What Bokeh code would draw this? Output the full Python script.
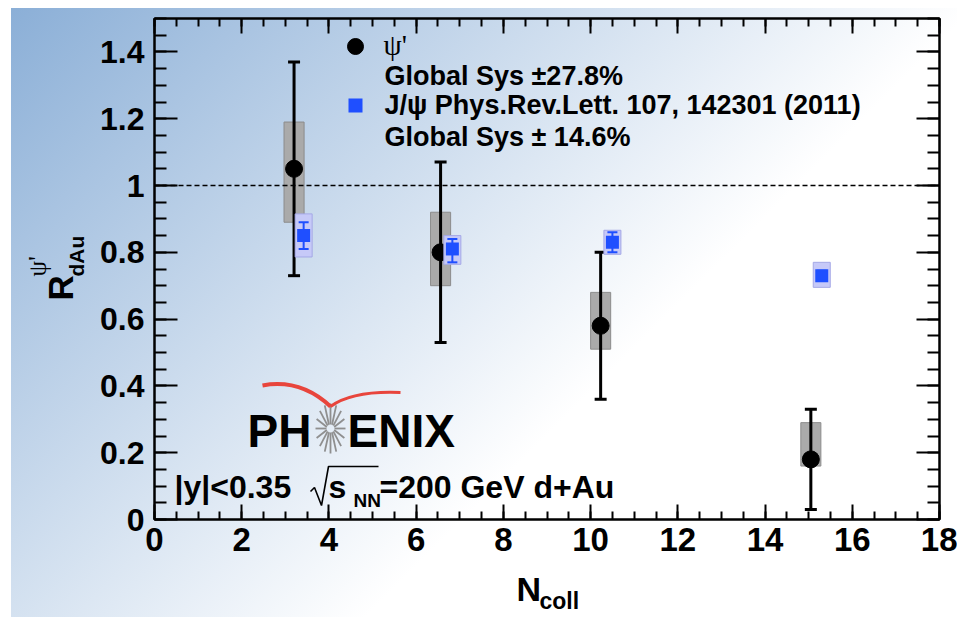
import numpy as np
from bokeh.plotting import figure
from bokeh.models import Range1d, LinearAxis, FixedTicker, Label, Span, ColumnDataSource
from bokeh.core.properties import value
from bokeh.embed import file_html
from bokeh.resources import INLINE

# ---------------- data ----------------
psi2s_ncoll = [3.2, 6.56, 10.23, 15.05]
psi2s_r = [1.05, 0.80, 0.58, 0.18]
psi2s_stat_hi = [1.37, 1.07, 0.80, 0.33]
psi2s_stat_lo = [0.73, 0.53, 0.36, 0.03]
psi2s_sys_hi = [1.19, 0.92, 0.68, 0.29]
psi2s_sys_lo = [0.89, 0.70, 0.51, 0.16]

jpsi_ncoll = [3.42, 6.83, 10.5, 15.3]
jpsi_r = [0.85, 0.81, 0.83, 0.73]
jpsi_stat_hi = [0.89, 0.84, 0.86, 0.745]
jpsi_stat_lo = [0.81, 0.77, 0.80, 0.715]
jpsi_sys_hi = [0.915, 0.85, 0.866, 0.77]
jpsi_sys_lo = [0.786, 0.764, 0.794, 0.695]

y_ticks = [0, 0.2, 0.4, 0.6, 0.8, 1, 1.2, 1.4]
y_tick_labels = ["0", "0.2", "0.4", "0.6", "0.8", "1", "1.2", "1.4"]
x_ticks = [0, 2, 4, 6, 8, 10, 12, 14, 16, 18]
x_tick_labels = ["0", "2", "4", "6", "8", "10", "12", "14", "16", "18"]

legend_psi2s = ["ψ'", "Global Sys ±27.8%"]
legend_jpsi = ["J/ψ Phys.Rev.Lett. 107, 142301 (2011)", "Global Sys ± 14.6%"]
kin_text = ["|y|<0.35", "s", "NN", "=200 GeV d+Au"]
y_title = ["R", "dAu", "ψ'"]
x_title = ["N", "coll"]

# ---------------- layout ----------------
W, H = 957, 617
FL, FR, FT, FB = 154, 939, 18, 519          # frame edges in pixels
XMAX, YMAX = 18.0, 1.5
FONT = "Liberation Sans"
BASE_SHIFT = 0.35                            # text anchor correction (fraction of font size)


def X(px):
    return (px - FL) * XMAX / (FR - FL)


def Y(py):
    return (FB - py) * YMAX / (FB - FT)


p = figure(width=W, height=H, x_range=Range1d(0, XMAX), y_range=Range1d(0, YMAX),
           output_backend="svg", toolbar_location=None,
           x_axis_location=None, y_axis_location=None,
           min_border_left=FL, min_border_right=W - FR,
           min_border_top=FT, min_border_bottom=H - FB)
p.grid.visible = False
p.background_fill_alpha = 0
p.border_fill_alpha = 0
p.outline_line_color = "black"
p.outline_line_width = 2
p.styles = {
    "background-color": "white",
    "background-image": "linear-gradient(135deg, #8bafd7 0%, #ffffff 62%)",
    "background-repeat": "no-repeat",
    "background-position": "11px 8px",
    "background-size": "946px 609px",
}

y_minor = list(np.round(np.arange(0, YMAX + 1e-9, 0.05), 3))
x_minor = list(np.round(np.arange(0, XMAX + 1e-9, 0.5), 3))


def axis(ticks, minor, labels, major_len, minor_len, show, size, standoff):
    ax = LinearAxis(ticker=FixedTicker(ticks=ticks, minor_ticks=minor),
                    major_tick_in=major_len, major_tick_out=0,
                    minor_tick_in=minor_len, minor_tick_out=0,
                    axis_line_width=2, major_tick_line_width=2, minor_tick_line_width=2,
                    axis_line_color="black", major_tick_line_color="black",
                    minor_tick_line_color="black",
                    major_label_overrides=dict(zip(ticks, labels if show else [""] * len(ticks))),
                    major_label_text_font=FONT, major_label_text_font_style="bold",
                    major_label_text_color="black",
                    major_label_text_font_size=(size if show else "1px"),
                    major_label_standoff=standoff)
    return ax


p.add_layout(axis(y_ticks, y_minor, y_tick_labels, 23, 12, True, "32px", 10), "left")
p.add_layout(axis(y_ticks, y_minor, y_tick_labels, 23, 12, False, "32px", 0), "right")
p.add_layout(axis(x_ticks, x_minor, x_tick_labels, 15, 8, True, "33px", 8), "below")
p.add_layout(axis(x_ticks, x_minor, x_tick_labels, 15, 8, False, "33px", 0), "above")

# reference line at R = 1
p.add_layout(Span(location=1, dimension="width", line_color="black",
                  line_width=1.5, line_dash="5 3"))

# ---------------- psi(2S) ----------------
hw_psi = 0.23
src_psi = ColumnDataSource(dict(
    x=psi2s_ncoll, y=psi2s_r, hi=psi2s_stat_hi, lo=psi2s_stat_lo,
    shi=psi2s_sys_hi, slo=psi2s_sys_lo,
    left=[v - hw_psi for v in psi2s_ncoll], right=[v + hw_psi for v in psi2s_ncoll]))

# ---------------- J/psi ----------------
hw_j = 0.195
src_j = ColumnDataSource(dict(
    x=jpsi_ncoll, y=jpsi_r, hi=jpsi_stat_hi, lo=jpsi_stat_lo,
    shi=jpsi_sys_hi, slo=jpsi_sys_lo,
    left=[v - hw_j for v in jpsi_ncoll], right=[v + hw_j for v in jpsi_ncoll]))

p.quad(left="left", right="right", bottom="slo", top="shi", source=src_psi,
       fill_color="#aaaaaa", line_color="#8c8c8c", line_width=1)
p.segment(x0="x", y0="lo", x1="x", y1="hi", source=src_psi, line_color="black", line_width=3)
p.scatter(x="x", y="hi", source=src_psi, marker="dash", size=12, line_color="black", line_width=3)
p.scatter(x="x", y="lo", source=src_psi, marker="dash", size=12, line_color="black", line_width=3)
p.scatter(x="x", y="y", source=src_psi, marker="circle", size=17,
          fill_color="black", line_color="black")

p.quad(left="left", right="right", bottom="slo", top="shi", source=src_j,
       fill_color="#c6c9f8", line_color="#a5a8e6", line_width=1)
p.scatter(x="x", y="y", source=src_j, marker="square", size=13,
          fill_color="#1f4fff", line_color=None)
p.segment(x0="x", y0="lo", x1="x", y1="hi", source=src_j, line_color="#1f4fff", line_width=2)
p.scatter(x="x", y="hi", source=src_j, marker="dash", size=10, line_color="#1f4fff", line_width=2)
p.scatter(x="x", y="lo", source=src_j, marker="dash", size=10, line_color="#1f4fff", line_width=2)


def label(px, py, text, size, font=FONT, style="bold", color="black"):
    """Text inside the frame; (px, py) is the wanted left end of the baseline in pixels."""
    py_anchor = py - BASE_SHIFT * size
    p.add_layout(Label(x=X(px), y=Y(py_anchor), text=text, text_font=font,
                       text_font_size=f"{size}px", text_font_style=style,
                       text_align="left", text_baseline="alphabetic", text_color=color))


# ---------------- legend ----------------
p.scatter(x=[X(355)], y=[Y(46)], marker="circle", size=16, fill_color="black", line_color="black")
p.scatter(x=[X(355)], y=[Y(105)], marker="square", size=14, fill_color="#1f4fff", line_color=None)
label(383, 55, legend_psi2s[0], 29, font="Liberation Serif", style="normal")
label(384, 85, legend_psi2s[1], 27)
label(384, 114, legend_jpsi[0], 27)
label(384, 146, legend_jpsi[1], 27)

# ---------------- kinematics text ----------------
label(174, 498, kin_text[0], 32)
label(328, 498, kin_text[1], 32)
label(353, 507, kin_text[2], 19)
label(379, 498, kin_text[3], 32)
rad_px = [310, 314, 321, 328, 378]
rad_py = [491, 487, 505, 466, 466]
p.line(x=[X(v) for v in rad_px], y=[Y(v) for v in rad_py], line_color="black", line_width=1.6)

# ---------------- PHENIX logo ----------------
label(247, 447, "PH", 46)
label(347, 447, "ENIX", 46)
cx, cy = 330, 428
ang = np.linspace(0, 2 * np.pi, 16, endpoint=False)
p.segment(x0=[X(cx + 4 * np.cos(a)) for a in ang], y0=[Y(cy + 4 * np.sin(a)) for a in ang],
          x1=[X(cx + 15 * np.cos(a)) for a in ang], y1=[Y(cy + 25 * np.sin(a)) for a in ang],
          line_color="#8f8f8f", line_width=1.8)
p.quadratic(x0=[X(262)], y0=[Y(385)], cx=[X(300)], cy=[Y(378)], x1=[X(330)], y1=[Y(406)],
            line_color="#e8453c", line_width=4)
p.quadratic(x0=[X(330)], y0=[Y(406)], cx=[X(352)], cy=[Y(390)], x1=[X(400)], y1=[Y(392)],
            line_color="#e8453c", line_width=3)

# ---------------- transparent overlay (separate root) for the axis titles ----------------
q = figure(width=W, height=H, x_range=Range1d(0, W), y_range=Range1d(0, H),
           output_backend="svg", toolbar_location=None,
           x_axis_location=None, y_axis_location=None,
           min_border_left=0, min_border_right=0, min_border_top=0, min_border_bottom=0)
q.grid.visible = False
q.background_fill_alpha = 0
q.border_fill_alpha = 0
q.outline_line_color = None
q.styles = {"position": "absolute", "top": "0px", "left": "0px", "pointer-events": "none"}


def qtext(px, py, text, size, font=FONT, style="bold", vertical=False):
    """(px, py): wanted start of the baseline in pixels (vertical text reads upwards)."""
    if vertical:
        ax, ay, angle = px - BASE_SHIFT * size, py, np.pi / 2
    else:
        ax, ay, angle = px, py - BASE_SHIFT * size, 0.0
    q.text(x=[ax], y=[H - ay], text=[text], text_font=value(font),
           text_font_size=value(f"{size}px"), text_font_style=style, angle=angle,
           text_align="left", text_baseline="alphabetic", text_color="black")


qtext(72, 300, y_title[0], 35, vertical=True)
qtext(83, 276, y_title[1], 21, vertical=True)
qtext(46, 276, y_title[2], 25, font="Liberation Serif", style="normal", vertical=True)
qtext(516, 600, x_title[0], 34)
qtext(539, 609, x_title[1], 23)

open("out.html", "w").write(file_html([p, q], INLINE))
